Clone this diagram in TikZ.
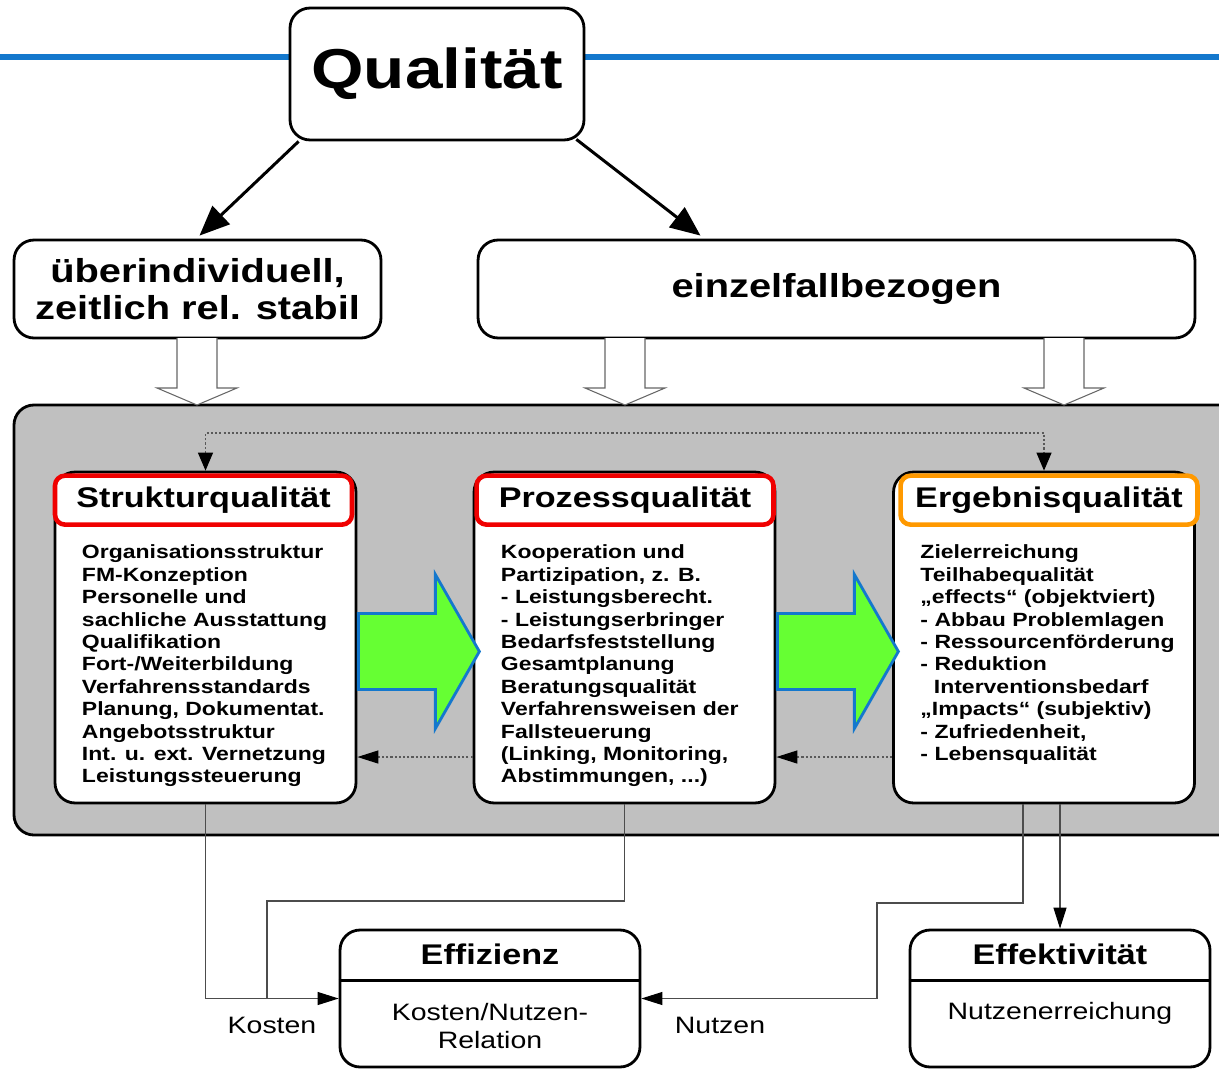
\documentclass[tikz,border=0pt]{standalone}
\usepackage{fontspec}
\setmainfont{Liberation Sans}[FakeStretch=1.2]
\usepackage{tikz}
\definecolor{lineblue}{RGB}{20,120,205}
\definecolor{panelgrey}{RGB}{192,192,192}
\definecolor{arrowgreen}{RGB}{102,255,51}
\definecolor{framered}{RGB}{240,0,0}
\definecolor{frameorange}{RGB}{255,153,0}
\usetikzlibrary{
  arrows.meta,
  positioning,
  calc
}

\begin{document}
\begin{tikzpicture}[
  x=0.02cm, y=-0.02cm,
  box/.style={rectangle, draw=black, line width=1.6pt, fill=white, rounded corners=0.4cm, align=center},
  bigfont/.style={font=\fontsize{32}{38}\selectfont\bfseries},
  headfont/.style={font=\fontsize{18.9}{21}\selectfont\bfseries},
  titleframe/.style={rectangle, line width=2.6pt, rounded corners=0.2cm, fill=white, minimum width=5.94cm, minimum height=0.98cm, font=\fontsize{16.2}{19}\selectfont\bfseries},
  bodytext/.style={inner sep=0pt, align=left, anchor=north west, font=\fontsize{10.9}{12.75}\selectfont\bfseries},
  smalltext/.style={align=center, font=\fontsize{13.5}{15.9}\selectfont},
  bigarrow/.style={-{Triangle[length=6mm, width=5mm]}, line width=1.7pt},
  hollow/.style={fill=white, draw=black!60, line width=0.6pt},
  greenarrow/.style={fill=arrowgreen, draw=lineblue, line width=1.6pt, line join=miter},
  dotlink/.style={draw=black!65, line width=0.7pt, dash pattern=on 1.2pt off 1.2pt},
  link/.style={draw=black!70, line width=0.6pt},
  tip/.style={-{Triangle[length=4.2mm, width=2.6mm, black]}}
]
  \useasboundingbox (0,0) rectangle (1219,1068);

  % headline
  \draw[lineblue, line width=3.4pt] (0,57) -- (1219,57);
  \node[box, bigfont, minimum width=5.88cm, minimum height=2.64cm] (qual) at (437,74) {Qualität};

  \node[box, headfont, minimum width=7.34cm, minimum height=1.96cm] (uber) at (197.5,289) {überindividuell,\\zeitlich rel. stabil};
  \node[box, headfont, minimum width=14.34cm, minimum height=1.96cm] (einzel) at (836.5,289) {einzelfallbezogen};

  \draw[bigarrow] ($(qual.south west)+(10,0)$) -- ($(uber.north)+(2,-3)$);
  \draw[bigarrow] ($(qual.south east)+(-9,-2)$) -- ($(einzel.north)+(-136,-3)$);

  % grey panel
  \draw[fill=panelgrey, line width=1.6pt, rounded corners=0.4cm] (14,405) rectangle (1240,835);

  \foreach \c in {197,625,1064}
    \draw[hollow] (\c-20,338) -- (\c-20,388) -- (\c-40,388) -- (\c,405) -- (\c+40,388) -- (\c+20,388) -- (\c+20,338);

  % quality boxes
  \node[box, minimum width=6.02cm, minimum height=6.62cm] (struk) at (205.5,637.5) {};
  \node[box, minimum width=6.02cm, minimum height=6.62cm] (proz) at (624.5,637.5) {};
  \node[box, minimum width=6.02cm, minimum height=6.62cm] (erg) at (1044,637.5) {};

  \node[titleframe, draw=framered] (struktitle) at ($(struk.north)+(-2,29.5)$) {Strukturqualität};
  \node[titleframe, draw=framered] (proztitle) at ($(proz.north)+(0.5,29.5)$) {Prozessqualität};
  \node[titleframe, draw=frameorange] (ergtitle) at ($(erg.north)+(5,29.5)$) {Ergebnisqualität};

  \node[bodytext] (struktext) at ($(struk.north west)+(28,74)$) {Organisationsstruktur\\FM-Konzeption\\Personelle und\\sachliche Ausstattung\\Qualifikation\\Fort-/Weiterbildung\\Verfahrensstandards\\Planung, Dokumentat.\\Angebotsstruktur\\Int. u. ext. Vernetzung\\Leistungssteuerung};
  \node[bodytext] (proztext) at ($(proz.north west)+(28,74)$) {Kooperation und\\Partizipation, z. B.\\- Leistungsberecht.\\- Leistungserbringer\\Bedarfsfeststellung\\Gesamtplanung\\Beratungsqualität\\Verfahrensweisen der\\Fallsteuerung\\(Linking, Monitoring,\\Abstimmungen, ...)};
  \node[bodytext] (ergtext) at ($(erg.north west)+(28,74)$) {Zielerreichung\\Teilhabequalität\\„effects“ (objektviert)\\- Abbau Problemlagen\\- Ressourcenförderung\\- Reduktion\\\hspace*{0.7em}Interventionsbedarf\\„Impacts“ (subjektiv)\\- Zufriedenheit,\\- Lebensqualität};

  \foreach \a in {struk,proz}
    \draw[greenarrow] ($(\a.east)+(1,-24)$) -- ++(77,0) -- ++(0,-39) -- ++(44,77) -- ++(-44,77) -- ++(0,-39) -- ++(-77,0) -- cycle;

  % feedback
  \coordinate (dtop) at (600,433);
  \coordinate (fb) at (0,757);
  \draw[dotlink, {Triangle[length=3.6mm, width=3mm, black]}-{Triangle[length=3.6mm, width=3mm, black]}] (struk.north) -- (struk.north |- dtop) -- (erg.north |- dtop) -- (erg.north);
  \draw[dotlink, tip] (proz.west |- fb) -- (struk.east |- fb);
  \draw[dotlink, tip] (erg.west |- fb) -- (proz.east |- fb);

  % results
  \node[box, minimum width=6cm, minimum height=2.74cm] (effz) at (490,998.5) {};
  \node[box, minimum width=6cm, minimum height=2.74cm] (effk) at (1060,998.5) {};
  \draw[line width=1.6pt] ($(effz.north west)+(0,52)$) -- ($(effz.north east)+(0,52)$);
  \draw[line width=1.6pt] ($(effk.north west)+(0,52)$) -- ($(effk.north east)+(0,52)$);
  \node[font=\fontsize{16.2}{19}\selectfont\bfseries] (effztitle) at ($(effz.north)+(0,26)$) {Effizienz};
  \node[font=\fontsize{16.2}{19}\selectfont\bfseries] (effktitle) at ($(effk.north)+(0,26)$) {Effektivität};
  \node[smalltext] (effzbody) at ($(effz.north)+(0,97)$) {Kosten/Nutzen-\\Relation};
  \node[smalltext] (effkbody) at ($(effk.north)+(0,85)$) {Nutzenerreichung};

  \coordinate (pturn) at (267,901);
  \coordinate (eturn) at (877,903);
  \draw[link, tip] (struk.south) |- (effz.west);
  \draw[link] (proz.south) |- (pturn) -- (pturn |- effz.west);
  \draw[link, tip] ($(erg.south)+(-21,0)$) |- (eturn) |- (effz.east);
  \draw[link, tip] ($(erg.south)+(16,0)$) -- (effk.north);

  \node[smalltext] (kosten) at (272,1025) {Kosten};
  \node[smalltext] (nutzen) at (720,1025) {Nutzen};
\end{tikzpicture}
\end{document}
